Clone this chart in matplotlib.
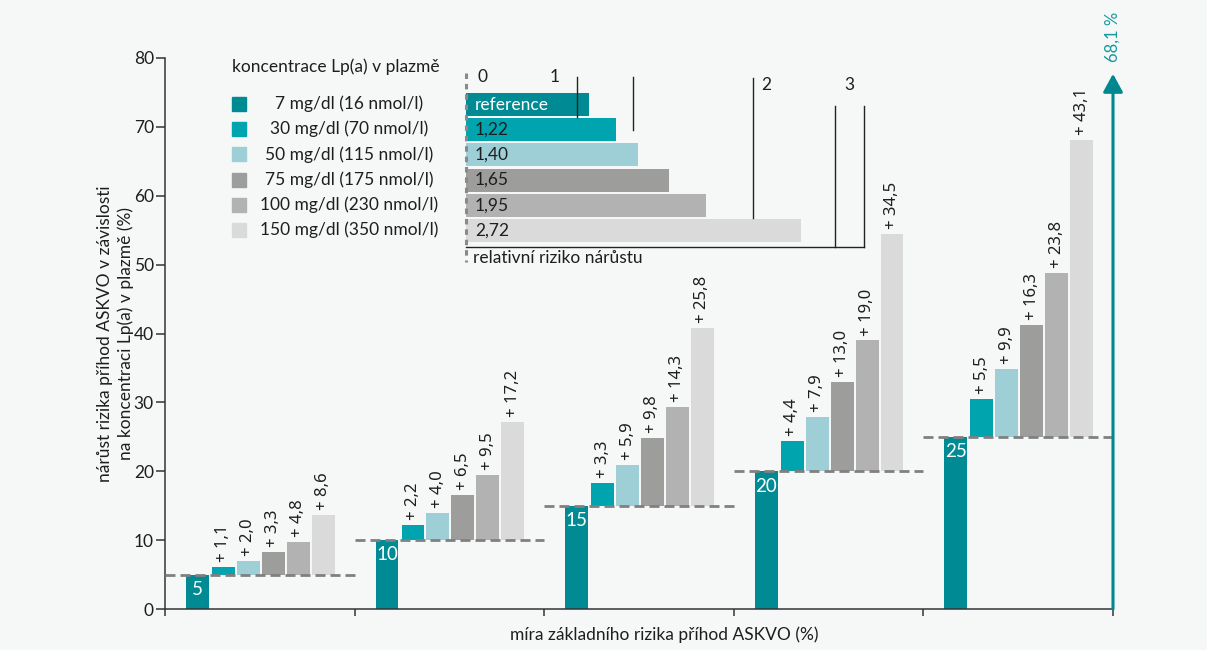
import matplotlib
matplotlib.use("Agg")
from matplotlib import pyplot as plt
from matplotlib.patches import Rectangle
from matplotlib.lines import Line2D

plt.rcParams['font.family'] = ['Lato', 'DejaVu Sans']

# ===================== Data =====================
base_risk = [5, 10, 15, 20, 25]
increments = [
    [1.1, 2.0, 3.3, 4.8, 8.6],
    [2.2, 4.0, 6.5, 9.5, 17.2],
    [3.3, 5.9, 9.8, 14.3, 25.8],
    [4.4, 7.9, 13.0, 19.0, 34.5],
    [5.5, 9.9, 16.3, 23.8, 43.1],
]
lpa_levels = ["7 mg/dl (16 nmol/l)", "30 mg/dl (70 nmol/l)", "50 mg/dl (115 nmol/l)",
              "75 mg/dl (175 nmol/l)", "100 mg/dl (230 nmol/l)", "150 mg/dl (350 nmol/l)"]
rel_risk = [1.00, 1.22, 1.40, 1.65, 1.95, 2.72]
rel_labels = ["reference", "1,22", "1,40", "1,65", "1,95", "2,72"]

colors = ['#008b94', '#00a4ae', '#9ecfd6', '#9d9d9c', '#b2b2b2', '#dadada']
bg = '#f5f8f7'
dark = '#1e1e1e'

W, H = 1207, 650


def fx(px):
    return px / W


def fy(py):
    return 1 - py / H


fig = plt.figure(figsize=(W / 100, H / 100), dpi=100, facecolor=bg)

# ===================== Main chart =====================
ax = fig.add_axes([fx(165), fy(609), 948 / W, 551 / H])
ax.set_facecolor(bg)
ax.set_xlim(0, 5)
ax.set_ylim(0, 80)

bw = 0.121
base_off = 0.171
inc_off = 0.308
pitch = 0.1316

for g, (b, incs) in enumerate(zip(base_risk, increments)):
    ax.bar(g + base_off, b, width=bw, color=colors[0], zorder=2)
    ax.annotate(str(b), (g + base_off, b), xytext=(0, -4.5), textcoords='offset points',
                ha='center', va='top', color='white', fontsize=13.5, zorder=4)
    for k, v in enumerate(incs):
        xc = g + inc_off + k * pitch
        ax.bar(xc, v, bottom=b, width=bw, color=colors[k + 1], zorder=2)
        ax.annotate("+ " + f"{v:.1f}".replace('.', ','), (xc, b + v), xytext=(0, 3.5),
                    textcoords='offset points', ha='center', va='bottom', rotation=90,
                    fontsize=12, family=['Noto Sans', 'DejaVu Sans'], color=dark, zorder=4)
    ax.plot([g, g + 1], [b, b], color='#808080', lw=2, dashes=(3.6, 1.8), zorder=3,
            clip_on=False)

# arrow to the top value
top_val = base_risk[-1] + increments[-1][-1]
ax.annotate('', xy=(5, 77.7), xytext=(5, 0),
            arrowprops=dict(arrowstyle='-|>,head_length=0.55,head_width=0.3',
                            color='#00878f', lw=2.2, mutation_scale=20,
                            shrinkA=0, shrinkB=0),
            annotation_clip=False, zorder=5)
ax.text(5, 79.4, f"{top_val:.1f}".replace('.', ',') + " %", rotation=90, ha='center',
        va='bottom', color='#16989f', fontsize=12, clip_on=False)

for s in ['top', 'right']:
    ax.spines[s].set_visible(False)
for s in ['left', 'bottom']:
    ax.spines[s].set_color('#333333')
    ax.spines[s].set_linewidth(1.1)

ax.set_yticks(range(0, 81, 10))
ax.set_xticks(range(0, 6))
ax.set_xticklabels([])
ax.tick_params(axis='y', length=6.5, width=1.1, color='#333333', labelsize=12.5,
               labelcolor=dark, pad=1.5)
ax.tick_params(axis='x', length=5, width=1.1, color='#333333')

ax.set_xlabel("míra základního rizika příhod ASKVO (%)", fontsize=12.5, color=dark)
ax.xaxis.set_label_coords(0.527, -0.032)
ax.set_ylabel("nárůst rizika příhod ASKVO v závislosti\nna koncentraci Lp(a) v plazmě (%)",
              fontsize=12.5, color=dark, linespacing=1.3)
ax.yaxis.set_label_coords(-0.033, 0.5)

# ===================== Inset: relative risk =====================
row_px = 25.2
ax2 = fig.add_axes([fx(466), fy(265), 398 / W, 203 / H])
ax2.set_xlim(0, 398 / 123)
ax2.set_ylim(6.37, -1.687)
ax2.axis('off')
ax2.patch.set_alpha(0)

rows = list(range(len(rel_risk)))
ax2.barh(rows, rel_risk, height=23 / row_px, color=colors, zorder=2)
for r, lab in zip(rows, rel_labels):
    ax2.annotate(lab, (0, r), xytext=(6.5, 0), textcoords='offset points', va='center',
                 ha='left', fontsize=12.5, color='white' if r == 0 else dark, zorder=4)
ax2.plot([0, 0], [-1.25, 6.25], color='#8a8a8a', lw=2.2, dashes=(1.8, 1.6), zorder=3,
         clip_on=False)

# decorative frame lines of the inset
frame = [
    ((577, 77), (577, 117)),
    ((633, 77), (633, 130)),
    ((753, 78), (753, 218)),
    ((835, 106), (835, 247)),
    ((864, 106), (864, 247)),
    ((466, 247), (864, 247)),
]
for (x0, y0), (x1, y1) in frame:
    fig.add_artist(Line2D([fx(x0), fx(x1)], [fy(y0), fy(y1)], color='#222222', lw=1.0,
                          transform=fig.transFigure))

for t, (px, py) in zip(["0", "1", "2", "3"], [(483, 77), (555, 77), (766, 85), (849, 85)]):
    fig.text(fx(px), fy(py), t, ha='center', va='center', fontsize=12.5, color=dark)
fig.text(fx(473), fy(258), "relativní riziko nárůstu", ha='left', va='center',
         fontsize=12.5, color=dark)

# ===================== Legend =====================
fig.text(fx(232), fy(67), "koncentrace Lp(a) v plazmě", ha='left', va='center',
         fontsize=12.5, color=dark)
for i, (lab, c) in enumerate(zip(lpa_levels, colors)):
    yc = 104 + i * row_px
    fig.add_artist(Rectangle((fx(232), fy(yc + 7)), 14 / W, 14 / H, color=c,
                             transform=fig.transFigure))
    fig.text(fx(349), fy(yc), lab, ha='center', va='center', fontsize=12.5, color=dark)

plt.savefig("out.png", dpi=100, facecolor=bg)
plt.close()
